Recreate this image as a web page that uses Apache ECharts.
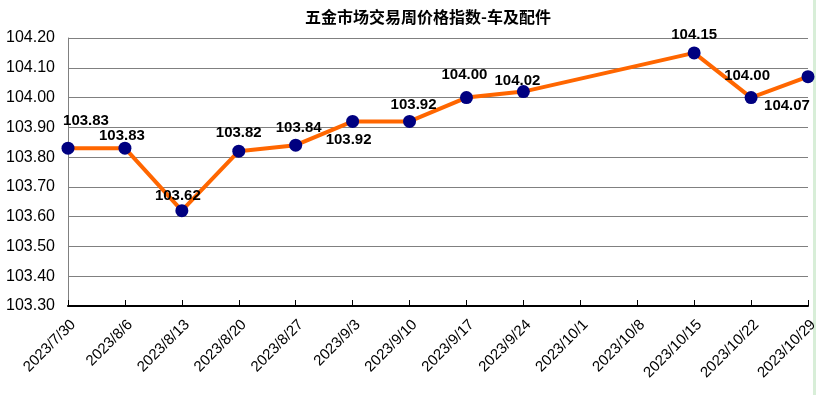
<!DOCTYPE html>
<html>
<head>
<meta charset="utf-8">
<script src="https://cdn.jsdelivr.net/npm/echarts@6/dist/echarts.min.js"></script>
<style>
html,body{margin:0;padding:0;background:#fff;}
#c{width:816px;height:395px;}
</style>
</head>
<body>
<div id="c"></div>
<script>
var titleText = '五金市场交易周价格指数-车及配件';
var categories = ['2023/7/30','2023/8/6','2023/8/13','2023/8/20','2023/8/27','2023/9/3','2023/9/10','2023/9/17','2023/9/24','2023/10/1','2023/10/8','2023/10/15','2023/10/22','2023/10/29'];
var values = [103.83, 103.83, 103.62, 103.82, 103.84, 103.92, 103.92, 104.00, 104.02, null, null, 104.15, 104.00, 104.07];
var labelOffsets = [[18,-27],[-3,-12],[-4,-15],[0,-18],[3,-17],[-4,18],[4,-17],[-2,-23],[-6,-11],[0,0],[0,0],[0,-18],[-4,-22],[-21,29]];
var yMin = 103.30, yMax = 104.20, yStep = 0.10;

var seriesData = values.map(function(v, i){
  return {
    value: v,
    label: { offset: labelOffsets[i] }
  };
});

var chart = echarts.init(document.getElementById('c'), null, {renderer:'canvas'});
chart.setOption({
  animation: false,
  backgroundColor: '#ffffff',
  title: {
    text: titleText,
    left: 423,
    textAlign: 'center',
    top: 4,
    textStyle: { fontFamily: 'Noto Sans CJK SC', fontSize: 16, fontWeight: 'bold', color: '#000' }
  },
  grid: { left: 68, right: 8, top: 38, bottom: 89, containLabel: false, outerBoundsMode: 'none' },
  xAxis: {
    type: 'category',
    data: categories,
    boundaryGap: false,
    axisLine: { show: true, lineStyle: { color: '#000', width: 2 } },
    axisTick: { show: true, inside: true, length: 6, alignWithLabel: true, lineStyle: { color: '#000', width: 1 } },
    axisLabel: {
      interval: 0,
      rotate: 45,
      margin: 11,
      align: 'right',
      verticalAlign: 'top',
      hideOverlap: false,
      fontFamily: 'Liberation Sans, Arial',
      fontSize: 15,
      color: '#000'
    },
    splitLine: { show: false }
  },
  yAxis: {
    type: 'value',
    min: yMin,
    max: yMax,
    interval: yStep,
    axisLine: { show: true, lineStyle: { color: '#808080', width: 1 } },
    axisTick: { show: false },
    axisLabel: {
      margin: 13,
      fontFamily: 'Liberation Sans, Arial',
      fontSize: 16,
      color: '#000',
      formatter: function(v){ return v.toFixed(2); }
    },
    splitLine: { show: true, lineStyle: { color: '#808080', width: 1 } }
  },
  series: [{
    type: 'line',
    data: seriesData,
    connectNulls: true,
    symbol: 'circle',
    symbolSize: 13,
    lineStyle: { color: '#FF6600', width: 4 },
    itemStyle: { color: '#000080' },
    label: {
      show: true,
      position: 'inside',
      fontFamily: 'Liberation Sans, Arial',
      fontSize: 15,
      fontWeight: 'bold',
      color: '#000',
      formatter: function(p){ return p.value == null ? '' : Number(p.value).toFixed(2); }
    },
    z: 3
  }],
  graphic: [{
    type: 'rect',
    shape: { x: 813, y: 0, width: 3, height: 395 },
    style: { fill: '#d8eed8' },
    silent: true
  }]
});
</script>
</body>
</html>
